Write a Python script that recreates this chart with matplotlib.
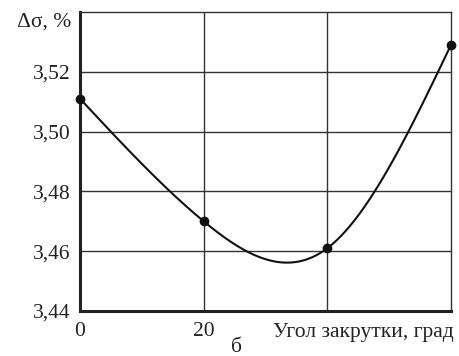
import numpy as np
import matplotlib
matplotlib.use("Agg")
import matplotlib.pyplot as plt

# Twist angle (deg) and stress deviation (%)
angle = [0, 20, 40, 60]
dsigma = [3.511, 3.470, 3.461, 3.529]

y_ticks = [3.44, 3.46, 3.48, 3.50, 3.52]
y_tick_labels = ["3,44", "3,46", "3,48", "3,50", "3,52"]
x_ticks = [0, 20]
x_tick_labels = ["0", "20"]


def natural_spline(xk, yk, xs):
    """Natural cubic spline through the knots, evaluated at xs."""
    xk = np.asarray(xk, float)
    yk = np.asarray(yk, float)
    n = len(xk)
    h = np.diff(xk)
    A = np.zeros((n, n))
    r = np.zeros(n)
    A[0, 0] = A[-1, -1] = 1.0
    for i in range(1, n - 1):
        A[i, i - 1] = h[i - 1]
        A[i, i] = 2 * (h[i - 1] + h[i])
        A[i, i + 1] = h[i]
        r[i] = 6 * ((yk[i + 1] - yk[i]) / h[i] - (yk[i] - yk[i - 1]) / h[i - 1])
    M = np.linalg.solve(A, r)
    idx = np.clip(np.searchsorted(xk, xs) - 1, 0, n - 2)
    x0, x1 = xk[idx], xk[idx + 1]
    hh = x1 - x0
    a = x1 - xs
    b = xs - x0
    return (M[idx] * a ** 3 / (6 * hh) + M[idx + 1] * b ** 3 / (6 * hh)
            + (yk[idx] / hh - M[idx] * hh / 6) * a
            + (yk[idx + 1] / hh - M[idx + 1] * hh / 6) * b)


plt.rcParams["font.family"] = ["Liberation Serif", "DejaVu Serif"]
FS = 15.5
INK = "#222222"

fig = plt.figure(figsize=(4.6, 3.56), dpi=100)
ax = fig.add_axes([80 / 460, 1 - 311 / 356, 371 / 460, 299 / 356])

xs = np.linspace(angle[0], angle[-1], 400)
ax.plot(xs, natural_spline(angle, dsigma, xs), color="#111111", lw=1.5,
        solid_capstyle="round", zorder=3)
ax.plot(angle, dsigma, "o", color="#111111", ms=6, zorder=4, clip_on=False)

ax.set_xlim(0, 60)
ax.set_ylim(3.44, 3.54)
ax.set_yticks(y_ticks)
ax.set_yticklabels(y_tick_labels)
ax.set_xticks(x_ticks)
ax.set_xticklabels(x_tick_labels)
ax.tick_params(axis="both", which="both", length=0, labelsize=FS,
               colors=INK, pad=7)
ax.tick_params(axis="x", pad=8)

for v in [20, 40]:
    ax.axvline(v, color="#333333", lw=1.0, zorder=1)
for v in [3.46, 3.48, 3.50, 3.52]:
    ax.axhline(v, color="#333333", lw=1.0, zorder=1)

for side in ["left", "bottom"]:
    ax.spines[side].set_linewidth(2.2)
    ax.spines[side].set_color(INK)
for side in ["top", "right"]:
    ax.spines[side].set_linewidth(1.0)
    ax.spines[side].set_color("#333333")

fig.text(71 / 460, 1 - 22 / 356, "Δσ, %", ha="right", va="center",
         fontsize=FS, color=INK)
fig.text(454 / 460, 1 - 337 / 356, "Угол закрутки, град", ha="right",
         va="baseline", fontsize=FS, color=INK)
fig.text(236 / 460, 1 - 347 / 356, "б", ha="center", va="center",
         fontsize=FS, color=INK)

fig.savefig("out.png", dpi=100)
